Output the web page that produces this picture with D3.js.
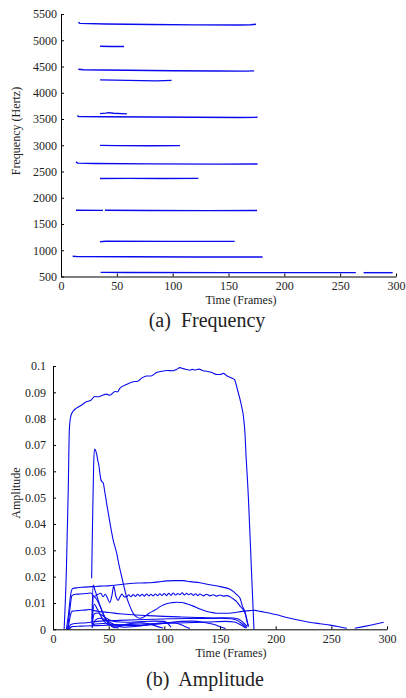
<!DOCTYPE html>
<html>
<head>
<meta charset="utf-8">
<script src="https://cdn.jsdelivr.net/npm/d3@7"></script>
<style>
  body { margin: 0; background: #fff; }
  svg { display: block; font-family: "Liberation Serif", "Times New Roman", serif; }
</style>
</head>
<body>
<svg id="chart" width="406" height="698"></svg>
<script>
// tick values
const timeTicks = [0, 50, 100, 150, 200, 250, 300]
const freqTicks = [500, 1000, 1500, 2000, 2500, 3000, 3500, 4000, 4500, 5000, 5500]
const ampTicks = [0, 0.01, 0.02, 0.03, 0.04, 0.05, 0.06, 0.07, 0.08, 0.09, 0.1]

// frequency tracks, [frame, hertz]
const f5330 = [[15.5, 5340], [17, 5322], [40, 5310], [80, 5300], [120, 5293], [160, 5290], [170, 5295], [174.6, 5305]]
const f4880 = [[35, 4885], [45, 4882], [56.4, 4880]]
const f4440 = [[15.5, 4447], [20, 4438], [35, 4433], [60, 4428], [100, 4420], [140, 4414], [165, 4412], [173, 4416]]
const f4240 = [[35, 4245], [60, 4236], [85, 4226], [99, 4236]]
const f3610 = [[35, 3602], [40, 3612], [43, 3622], [47, 3610], [59, 3598]]
const f3550 = [[14.6, 3563], [16, 3546], [40, 3544], [80, 3538], [120, 3532], [160, 3528], [176, 3532]]
const f3000 = [[35, 2998], [50, 2993], [80, 2990], [106.5, 2992]]
const f2660 = [[13.4, 2682], [15, 2660], [30, 2652], [80, 2645], [140, 2640], [176, 2643]]
const f2370 = [[35, 2366], [60, 2370], [90, 2368], [123, 2370]]
const f1760a = [[13.4, 1762], [37.6, 1760]]
const f1760b = [[39.4, 1762], [80, 1758], [130, 1755], [175.6, 1756]]
const f1170 = [[35, 1162], [40, 1172], [100, 1170], [155.5, 1170]]
const f880 = [[10.5, 885], [15, 878], [60, 875], [120, 872], [180.6, 872]]
const f570a = [[35.5, 578], [60, 575], [150, 573], [264, 573]]
const f570b = [[271, 573], [297, 573]]

// amplitude tracks, [frame, amplitude]
const a880 = [[10, 0], [12, 0.022], [13.7, 0.053], [14.7, 0.076], [16, 0.081], [18, 0.0828], [21, 0.084], [25, 0.085],
  [30, 0.0864], [34, 0.087], [37.5, 0.0884], [41, 0.0883], [44, 0.0888], [48, 0.0893], [51, 0.0889], [55.7, 0.0903],
  [58, 0.0902], [60, 0.0915], [66, 0.093], [72, 0.094], [76, 0.0942], [80, 0.0955], [84, 0.0962], [88, 0.0962],
  [93, 0.0975], [98, 0.098], [102, 0.0983], [108, 0.0982], [111, 0.0987], [114, 0.0994], [117, 0.099], [120, 0.0987],
  [123, 0.0984], [125, 0.0987], [128, 0.0985], [131, 0.0988], [135, 0.0982], [138, 0.098], [142, 0.0976], [147, 0.0968],
  [150, 0.0968], [153, 0.0972], [156, 0.0963], [160, 0.0955], [163, 0.0948], [166, 0.0905], [169, 0.0855], [171, 0.081],
  [172.5, 0.074], [173.5, 0.065], [174.5, 0.058], [175.5, 0.05], [178, 0.025], [180.5, 0]]
const a1760 = [[12, 0], [14, 0.006], [16, 0.0135], [17.7, 0.0155], [22, 0.0158], [27, 0.016], [35, 0.0162], [42, 0.0164],
  [50, 0.0165], [57, 0.0168], [65, 0.0172], [72, 0.0175], [80, 0.0176], [87, 0.0177], [95, 0.018], [102, 0.0184],
  [110, 0.0185], [117, 0.0185], [123, 0.0181], [132, 0.0177], [141, 0.0169], [150, 0.0162], [159, 0.0152], [165, 0.0132],
  [168, 0.0118], [170, 0.009], [172.5, 0.0065], [174.5, 0.003], [175.5, 0.001]]
const a2660 = [[13, 0], [15, 0.007], [17, 0.0128], [20, 0.0133], [25, 0.0134], [30, 0.0136], [34, 0.0138], [37, 0.0125],
  [40, 0.0132], [43, 0.0137], [45, 0.0124], [47, 0.0133], [49, 0.0118], [51, 0.0101], [53, 0.013], [54.5, 0.0164],
  [56.5, 0.0125], [58.5, 0.011], [60, 0.0122], [62, 0.0134], [64, 0.0123], [66, 0.0123], [68, 0.0131], [70, 0.0124],
  [72, 0.0132], [74, 0.0125], [76, 0.0133], [78, 0.0126], [80, 0.0133], [82, 0.0126], [84, 0.0134], [86, 0.0127],
  [88, 0.0133], [90, 0.0127], [92, 0.0134], [94, 0.0128], [96, 0.0135], [98, 0.0129], [100, 0.0136], [102, 0.0128],
  [104, 0.0137], [106, 0.0129], [108, 0.0138], [110, 0.013], [112, 0.0136], [114, 0.0131], [116, 0.0139], [118, 0.013],
  [120, 0.0137], [122, 0.0131], [124, 0.0136], [126, 0.0129], [128, 0.0135], [130, 0.0128], [132, 0.0134], [135, 0.0127],
  [138, 0.0133], [141, 0.0127], [144, 0.0131], [147, 0.0126], [150, 0.013], [153, 0.0126], [156, 0.0128], [159, 0.0124],
  [162, 0.0115], [165, 0.0105], [168, 0.0088], [171, 0.0074], [173, 0.0055], [174, 0.0035], [175.5, 0.001]]
const a3550 = [[13.5, 0], [15.5, 0.005], [17, 0.0068], [22, 0.0071], [28, 0.0073], [33, 0.0075], [37, 0.0071], [42, 0.0067],
  [50, 0.0064], [60, 0.0059], [72, 0.0055], [85, 0.0052], [100, 0.0049], [115, 0.0047], [130, 0.0045], [145, 0.0043],
  [155, 0.0044], [162, 0.0043], [167, 0.0038], [171, 0.0025], [174.5, 0.001]]
const a4440 = [[14, 0], [16, 0.0018], [20, 0.0022], [30, 0.0025], [40, 0.003], [50, 0.0033], [60, 0.0034], [75, 0.0036],
  [90, 0.0038], [105, 0.004], [120, 0.0041], [135, 0.0041], [150, 0.0042], [160, 0.004], [166, 0.0033], [170, 0.002], [174, 0.0005]]
const a5330 = [[14.5, 0], [17, 0.001], [25, 0.0012], [40, 0.0014], [60, 0.0017], [80, 0.002], [100, 0.0022], [120, 0.0025],
  [140, 0.0028], [155, 0.003], [163, 0.0028], [168, 0.0018], [173, 0.0005]]
const a570a = [[34.7, 0.0194], [35.5, 0.04], [36.5, 0.062], [37.2, 0.0684], [38.2, 0.068], [39.2, 0.0665], [40.3, 0.064],
  [41.3, 0.062], [42.2, 0.059], [43.1, 0.0567], [45.2, 0.0554], [46.7, 0.0517], [48.5, 0.047], [51.2, 0.0403], [54, 0.034],
  [57.2, 0.0289], [59.5, 0.024], [61.7, 0.02], [64, 0.0158], [66, 0.0124], [69, 0.0088], [72, 0.0061], [75, 0.0047],
  [78, 0.0042], [82, 0.0048], [86, 0.006], [91.6, 0.0073], [97, 0.0088], [102, 0.0097], [106.6, 0.0101], [111, 0.0103],
  [115.6, 0.0102], [120, 0.0097], [126, 0.0088], [132, 0.0077], [140, 0.0066], [147, 0.0061], [155, 0.0061], [162, 0.0063],
  [170, 0.0068], [177, 0.0071], [181.5, 0.0072], [186, 0.0068], [195, 0.0061], [201, 0.0055], [210, 0.0045], [219, 0.0036],
  [230, 0.0027], [240, 0.0021], [249, 0.0016], [257, 0.001], [264, 0.0004]]
const a570b = [[271, 0.0004], [280, 0.0011], [290, 0.002], [297, 0.0027]]
const a4880 = [[35, 0.004], [36, 0.0168], [38, 0.0145], [41, 0.0105], [44, 0.007], [47, 0.004], [50, 0.0022], [53, 0.001], [56, 0.0005]]
const a3610 = [[35, 0.003], [36.5, 0.0125], [39, 0.0115], [42, 0.009], [45, 0.006], [48, 0.0035], [52, 0.0015], [56, 0.0008], [59, 0.0005]]
const a4240 = [[35, 0.002], [37, 0.0095], [40, 0.0075], [43, 0.005], [46, 0.003], [50, 0.0018], [55, 0.0012], [62, 0.0016],
  [70, 0.0022], [78, 0.0025], [85, 0.0022], [92, 0.0013], [99, 0.0005]]
const a3000 = [[35, 0.001], [37, 0.0058], [40, 0.0062], [44, 0.0053], [48, 0.0042], [53, 0.0032], [60, 0.0028], [70, 0.0027],
  [80, 0.0029], [90, 0.0031], [100, 0.003], [104, 0.0018], [106, 0.0008]]
const a2370 = [[35, 0.0005], [38, 0.0035], [42, 0.0042], [46, 0.0038], [52, 0.0025], [58, 0.0012], [65, 0.0008], [75, 0.0012],
  [85, 0.0018], [95, 0.0024], [105, 0.0026], [112, 0.0022], [118, 0.0012], [123, 0.0003]]
const a1170 = [[35, 0.0015], [38, 0.002], [45, 0.0022], [55, 0.0018], [65, 0.0015], [75, 0.0014], [85, 0.0016], [95, 0.002],
  [105, 0.0026], [115, 0.003], [125, 0.0031], [135, 0.0027], [145, 0.0018], [150, 0.001], [155, 0.0003]]

const freqTracks = [f5330, f4880, f4440, f4240, f3610, f3550, f3000, f2660, f2370, f1760a, f1760b, f1170, f880, f570a, f570b]
const ampTracks = [a5330, a4440, a3550, a1170, a2370, a3000, a4240, a3610, a4880, a2660, a1760, a570a, a570b, a880]

const svg = d3.select("#chart")
const lineColor = "#0a0aee"

// one panel: scales, tracks, axes
function panel(opt) {
  let x = d3.scaleLinear().domain([0, 300]).range(opt.xRange)
  let y = d3.scaleLinear().domain(opt.yDomain).range(opt.yRange)
  let g = svg.append("g")

  let line = d3.line().x(d => x(d[0])).y(d => y(d[1])).curve(opt.curve)
  g.append("g")
    .selectAll("path")
    .data(opt.tracks)
    .join("path")
    .attr("d", line)
    .attr("fill", "none")
    .attr("stroke", lineColor)
    .attr("stroke-width", opt.strokeWidth)
    .attr("stroke-linejoin", "round")

  //ticks point inward, matlab style
  let xAxis = g.append("g")
    .attr("transform", `translate(0,${opt.yRange[0]})`)
    .call(d3.axisBottom(x).tickValues(timeTicks).tickSizeInner(-3).tickSizeOuter(0).tickPadding(opt.xPad))
  let yAxis = g.append("g")
    .attr("transform", `translate(${opt.xRange[0]},0)`)
    .call(d3.axisLeft(y).tickValues(opt.yTicks).tickFormat(opt.yFormat).tickSizeInner(-3).tickSizeOuter(0).tickPadding(opt.yPad))

  for (let a of [xAxis, yAxis]) {
    a.attr("font-family", null).attr("font-size", 12)
    a.selectAll("text").attr("fill", "#222")
    a.select(".domain").attr("stroke", "#000")
    a.selectAll(".tick line").attr("stroke", "#000")
  }

  g.append("text")
    .attr("x", opt.xTitleX)
    .attr("y", opt.xTitleY)
    .attr("text-anchor", "middle")
    .attr("font-size", 12)
    .attr("fill", "#222")
    .text("Time (Frames)")

  g.append("text")
    .attr("transform", `translate(${opt.yTitleX},${opt.yTitleY}) rotate(-90)`)
    .attr("text-anchor", "middle")
    .attr("font-size", 12)
    .attr("fill", "#222")
    .text(opt.yTitle)

  g.append("text")
    .attr("x", opt.capX)
    .attr("y", opt.capY)
    .attr("text-anchor", "middle")
    .attr("font-size", 20)
    .attr("fill", "#222")
    .style("white-space", "pre")
    .text(opt.caption)
}

panel({
  tracks: freqTracks,
  xRange: [61, 396],
  yDomain: [500, 5500],
  yRange: [276.5, 14],
  yTicks: freqTicks,
  yFormat: d => d,
  xPad: 5,
  yPad: 4,
  curve: d3.curveLinear,
  strokeWidth: 1.4,
  yTitle: "Frequency (Hertz)",
  yTitleX: 20,
  yTitleY: 131,
  xTitleX: 241,
  xTitleY: 304,
  caption: "(a)  Frequency",
  capX: 207,
  capY: 327
})

panel({
  tracks: ampTracks,
  xRange: [53, 387],
  yDomain: [0, 0.1],
  yRange: [629.3, 366],
  yTicks: ampTicks,
  yFormat: d => d === 0 ? "0" : d3.format(".2~f")(d),
  xPad: 5,
  yPad: 7,
  curve: d3.curveMonotoneX,
  strokeWidth: 1.1,
  yTitle: "Amplitude",
  yTitleX: 20,
  yTitleY: 493,
  xTitleX: 231,
  xTitleY: 657,
  caption: "(b)  Amplitude",
  capX: 205,
  capY: 686
})
</script>
</body>
</html>
